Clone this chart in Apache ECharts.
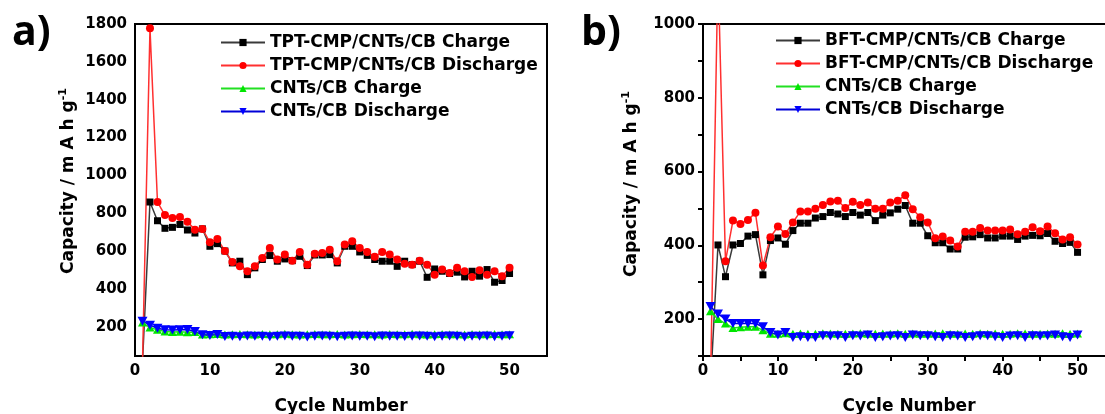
<!DOCTYPE html>
<html>
<head>
<meta charset="utf-8">
<script src="https://cdn.jsdelivr.net/npm/echarts@6/dist/echarts.min.js"></script>
<style>
html,body{margin:0;padding:0;background:#fff;overflow:hidden;width:1105px;height:414px;}
#chart{width:1130px;height:414px;}
</style>
</head>
<body>
<div id="chart"></div>
<script>
// ---------- data ----------
const cycles = [1,2,3,4,5,6,7,8,9,10,11,12,13,14,15,16,17,18,19,20,21,22,23,24,25,26,27,28,29,30,31,32,33,34,35,36,37,38,39,40,41,42,43,44,45,46,47,48,49,50];

// panel a
const tptCharge = [10,859,760,720,725,740,711,695,717,625,639,600,537,546,475,511,555,576,546,558,549,572,523,579,579,581,537,625,625,595,577,555,546,546,519,546,528,546,461,505,493,481,488,463,493,467,502,435,444,481];
const tptDischarge = [10,1777,859,790,775,780,755,713,717,646,664,600,542,519,493,519,563,616,555,581,549,595,528,585,590,607,546,634,651,616,595,569,595,581,555,533,528,549,528,475,502,484,511,493,463,498,475,493,467,511];
const cntChargeA = [222,195,184,174,172,173,171,172,158,160,161,159,160,161,160,159,161,160,160,162,160,159,160,161,160,160,161,159,160,161,160,160,159,161,160,160,162,160,159,160,161,160,160,159,161,160,160,161,160,160];
const cntDischargeA = [229,208,192,184,183,184,185,175,157,153,158,148,150,147,151,149,150,147,150,151,149,150,146,150,151,150,147,150,151,150,149,147,151,150,150,148,150,151,149,147,150,151,150,146,150,150,151,147,150,152];

// panel b
const bftCharge = [20,401,315,401,405,425,429,320,413,420,403,440,460,460,474,478,489,485,478,489,482,489,467,482,488,498,508,460,460,426,407,407,390,390,422,423,429,420,420,425,425,416,425,427,426,432,411,405,408,381];
const bftDischarge = [20,1150,357,467,458,469,488,345,422,451,431,462,492,492,499,509,519,521,501,518,509,516,499,499,516,521,536,498,476,462,419,424,413,397,437,437,447,440,440,440,443,430,437,449,438,451,433,416,422,402];
const cntChargeB = [221,200,188,176,178,179,179,170,160,160,162,160,161,160,160,162,161,160,160,161,162,160,160,161,160,162,160,161,160,160,161,162,160,160,161,160,162,160,161,160,160,162,161,160,160,161,160,162,160,161];
const cntDischargeB = [234,214,200,188,188,188,188,179,164,157,164,150,152,150,150,155,154,155,150,155,154,157,150,152,154,155,150,157,155,155,152,150,155,154,150,152,155,155,152,150,154,155,150,155,154,155,157,152,150,157];

// ticks / labels
const xTickLabels = [0,10,20,30,40,50];
const xTicksB = [0,5,10,15,20,25,30,35,40,45,50,55];
const yTickLabelsA = [200,400,600,800,1000,1200,1400,1600,1800];
const yTickLabelsB = [200,400,600,800,1000];
const yTicksB = [100,200,300,400,500,600,700,800,900,1000];

const namesA = ['TPT-CMP/CNTs/CB Charge','TPT-CMP/CNTs/CB Discharge','CNTs/CB Charge','CNTs/CB Discharge'];
const namesB = ['BFT-CMP/CNTs/CB Charge','BFT-CMP/CNTs/CB Discharge','CNTs/CB Charge','CNTs/CB Discharge'];
const panelLabels = ['a)','b)'];
const xTitle = 'Cycle Number';
const yTitle = 'Capacity / m A h g{sup|-1}';

// ---------- chart ----------
const FONT = 'DejaVu Sans';
const pair = arr => arr.map((v,i)=>[cycles[i], v]);
const downTri = 'path://M0,0 L10,0 L5,9 Z';
const upTri = 'path://M5,0 L10,9 L0,9 Z';
const plain = v => String(v);

const styles = [
  {line:'#3a3a3a', fill:'#000000', symbol:'rect', size:7},
  {line:'#ff3030', fill:'#ff0000', symbol:'circle', size:8},
  {line:'#22e022', fill:'#00e600', symbol:upTri, size:[9,8]},
  {line:'#0000d8', fill:'#0000ff', symbol:downTri, size:[10,9]}
];

function mkSeries(name, data, st, idx){
  return {
    type:'line', name, data: pair(data), xAxisIndex: idx, yAxisIndex: idx,
    symbol: st.symbol, symbolSize: st.size, showSymbol: true,
    lineStyle:{color: st.line, width: 1.5},
    itemStyle:{color: st.fill, borderWidth: 0},
    clip: true, animation: false, silent: true
  };
}

const labelStyle = {fontFamily: FONT, fontWeight:'bold', fontSize:15, color:'#000', formatter: plain};

function xAxis(idx, withTicks){
  return {
    type:'value', gridIndex: idx, min:0, max:55,
    name: xTitle, nameLocation:'middle', nameGap: 42,
    nameTextStyle:{fontFamily: FONT, fontWeight:'bold', fontSize:17, color:'#000'},
    axisLine:{show:true, onZero:false, lineStyle:{color:'#000', width:2}},
    axisTick: withTicks ? {show:true, inside:false, length:5, lineStyle:{color:'#000', width:2}, customValues: xTicksB} : {show:false},
    axisLabel:Object.assign({customValues: xTickLabels, margin:8}, labelStyle),
    splitLine:{show:false}
  };
}

const nameRich = {sup:{fontFamily: FONT, fontWeight:'bold', fontSize:11, verticalAlign:'top', lineHeight:22, color:'#000'}};

const option = {
  backgroundColor:'#fff',
  animation:false,
  grid:[
    {left:135, top:24, width:412, height:332, outerBoundsMode:'none', containLabel:false, show:true, borderColor:'#000', borderWidth:2, backgroundColor:'transparent'},
    {left:703, top:24, width:412, height:332, outerBoundsMode:'none', containLabel:false, show:true, borderColor:'#000', borderWidth:2, backgroundColor:'transparent'}
  ],
  xAxis:[ xAxis(0,false), xAxis(1,true) ],
  yAxis:[
    {type:'value', gridIndex:0, min:45, max:1800,
     name: yTitle, nameLocation:'middle', nameGap:55,
     nameTextStyle:{fontFamily: FONT, fontWeight:'bold', fontSize:17, color:'#000', lineHeight:22, rich:nameRich, padding:[0,0,0,18]},
     axisLine:{show:true, onZero:false, lineStyle:{color:'#000', width:2}},
     axisTick:{show:false},
     axisLabel:Object.assign({customValues: yTickLabelsA, margin:8}, labelStyle),
     splitLine:{show:false}},
    {type:'value', gridIndex:1, min:100, max:1000,
     name: yTitle, nameLocation:'middle', nameGap:60,
     nameTextStyle:{fontFamily: FONT, fontWeight:'bold', fontSize:17, color:'#000', lineHeight:22, rich:nameRich, padding:[0,0,0,12]},
     axisLine:{show:true, onZero:false, lineStyle:{color:'#000', width:2}},
     axisTick:{show:true, inside:false, length:5, lineStyle:{color:'#000', width:2}, customValues: yTicksB},
     axisLabel:Object.assign({customValues: yTickLabelsB, margin:8}, labelStyle),
     splitLine:{show:false}}
  ],
  legend:[
    {left:220, top:34, padding:0, orient:'vertical', itemWidth:44, itemHeight:9, itemGap:6, selectedMode:false,
     data: namesA, textStyle:{fontFamily: FONT, fontWeight:'bold', fontSize:17, lineHeight:17, color:'#000'}},
    {left:775, top:32, padding:0, orient:'vertical', itemWidth:44, itemHeight:9, itemGap:6, selectedMode:false,
     data: namesB, textStyle:{fontFamily: FONT, fontWeight:'bold', fontSize:17, lineHeight:17, color:'#000'}}
  ],
  graphic:[
    {type:'text', left:12, top:13, style:{text: panelLabels[0], font:'bold 41px "Open Sans"', fill:'#000'}},
    {type:'text', left:581, top:13, style:{text: panelLabels[1], font:'bold 41px "Open Sans"', fill:'#000'}}
  ],
  series:[
    mkSeries(namesA[0], tptCharge, styles[0], 0),
    mkSeries(namesA[1], tptDischarge, styles[1], 0),
    mkSeries(namesA[2], cntChargeA, styles[2], 0),
    mkSeries(namesA[3], cntDischargeA, styles[3], 0),
    mkSeries(namesB[0], bftCharge, styles[0], 1),
    mkSeries(namesB[1], bftDischarge, styles[1], 1),
    mkSeries(namesB[2], cntChargeB, styles[2], 1),
    mkSeries(namesB[3], cntDischargeB, styles[3], 1)
  ]
};

const chart = echarts.init(document.getElementById('chart'), null, {renderer:'canvas'});
chart.setOption(option);
</script>
</body>
</html>
